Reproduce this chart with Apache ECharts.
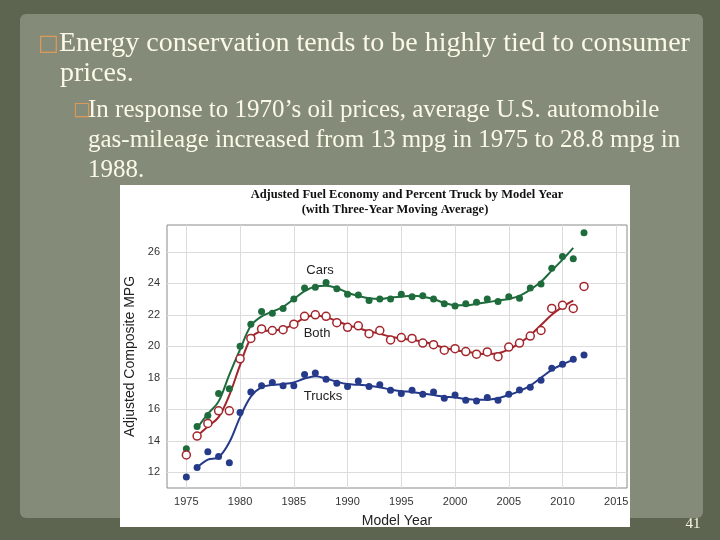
<!DOCTYPE html>
<html><head><meta charset="utf-8">
<script src="https://cdn.jsdelivr.net/npm/echarts@6/dist/echarts.min.js"></script>
<style>html,body{margin:0;padding:0;background:#5d6450;}#c{width:720px;height:540px;}</style>
</head><body><div id="c"></div>
<script>
const years = [1975,1976,1977,1978,1979,1980,1981,1982,1983,1984,1985,1986,1987,1988,1989,1990,1991,1992,1993,1994,1995,1996,1997,1998,1999,2000,2001,2002,2003,2004,2005,2006,2007,2008,2009,2010,2011,2012];
const carsPts = [13.5,14.9,15.6,17.0,17.3,20.0,21.4,22.2,22.1,22.4,23.0,23.7,23.75,24.05,23.65,23.3,23.25,22.9,23.0,23.0,23.3,23.15,23.2,23.0,22.7,22.55,22.7,22.8,23.0,22.85,23.15,23.05,23.7,23.95,24.95,25.7,25.55,27.2];
const bothPts = [13.1,14.3,15.1,15.9,15.9,19.2,20.5,21.1,21.0,21.05,21.4,21.9,22.0,21.9,21.5,21.2,21.3,20.8,21.0,20.4,20.55,20.5,20.2,20.1,19.75,19.85,19.66,19.5,19.64,19.34,19.95,20.2,20.65,21.0,22.4,22.6,22.4,23.8];
const trucksPts = [11.7,12.3,13.3,13.0,12.6,15.8,17.1,17.5,17.7,17.5,17.5,18.2,18.3,17.9,17.65,17.45,17.8,17.45,17.55,17.2,17.0,17.2,16.95,17.1,16.7,16.9,16.57,16.53,16.74,16.57,16.95,17.23,17.4,17.84,18.6,18.85,19.17,19.45];
const lineYears = [1976,1977,1978,1979,1980,1981,1982,1983,1984,1985,1986,1987,1988,1989,1990,1991,1992,1993,1994,1995,1996,1997,1998,1999,2000,2001,2002,2003,2004,2005,2006,2007,2008,2009,2010,2011];
const carsLine = [14.8,15.7,16.5,18.2,19.8,21.3,21.9,22.2,22.5,23.0,23.5,23.8,23.85,23.7,23.4,23.2,23.05,23.0,23.1,23.15,23.2,23.15,23.0,22.75,22.6,22.6,22.7,22.8,22.9,23.0,23.2,23.6,24.1,24.8,25.5,26.25];
const bothLine = [14.3,14.9,15.5,16.9,18.8,20.5,20.95,21.0,21.1,21.4,21.8,21.95,21.85,21.6,21.35,21.15,20.95,20.8,20.6,20.5,20.4,20.3,20.1,19.9,19.75,19.65,19.55,19.5,19.55,19.8,20.2,20.7,21.35,22.0,22.5,22.9];
const trucksLine = [12.3,12.8,12.95,13.9,15.5,16.8,17.4,17.55,17.6,17.7,17.95,18.1,17.95,17.75,17.6,17.55,17.5,17.4,17.25,17.15,17.1,17.0,16.9,16.8,16.75,16.65,16.6,16.6,16.7,16.9,17.15,17.5,18.0,18.5,18.85,19.15];
const xTicks = [1975,1980,1985,1990,1995,2000,2005,2010,2015];
const yTicks = [12,14,16,18,20,22,24,26];

const GREEN = '#1e6b3c', RED = '#a3262c', BLUE = '#263a8a';
const pair = (xs, ys) => xs.map((x, i) => [x, ys[i]]);
const SERIF = '"Liberation Serif","DejaVu Serif",serif';
const SANS = '"Liberation Sans",Arial,sans-serif';
const CREAM = '#fbf8e6';
const BULLET = '#dc9a58';

const chart = echarts.init(document.getElementById('c'), null, {renderer: 'canvas'});
const txt = (x, y, s, font, color, align) => ({type: 'text', x: x, y: y, z: 10,
  style: {text: s, fill: color, font: font, align: align || 'left', verticalAlign: 'middle'}});

chart.setOption({
  animation: false,
  backgroundColor: '#5d6450',
  graphic: [
    {type: 'rect', z: -100, shape: {x: 20, y: 14, width: 683, height: 504, r: 6}, style: {fill: '#858b79'}},
    {type: 'rect', z: -90, shape: {x: 120, y: 185, width: 510, height: 342}, style: {fill: '#ffffff'}},
    txt(38, 44, '\u25A1', '22px "DejaVu Sans",sans-serif', BULLET),
    txt(59, 44, 'Energy conservation tends to be highly tied to consumer', '28px ' + SERIF, CREAM),
    txt(60, 74, 'prices.', '28px ' + SERIF, CREAM),
    txt(73, 110, '\u25A1', '19px "DejaVu Sans",sans-serif', BULLET),
    txt(88, 110, 'In response to 1970\u2019s oil prices, average U.S. automobile', '25px ' + SERIF, CREAM),
    txt(88, 140, 'gas-mileage increased from 13 mpg in 1975 to 28.8 mpg in', '25px ' + SERIF, CREAM),
    txt(88, 170, '1988.', '25px ' + SERIF, CREAM),
    txt(693, 524, '41', '15px ' + SERIF, CREAM, 'center'),
    txt(407, 195, 'Adjusted Fuel Economy and Percent Truck by Model Year', 'bold 12.5px ' + SERIF, '#111', 'center'),
    txt(395, 210, '(with Three-Year Moving Average)', 'bold 12.5px ' + SERIF, '#111', 'center'),
    txt(320, 270, 'Cars', '13px ' + SANS, '#222', 'center'),
    txt(317, 333, 'Both', '13px ' + SANS, '#222', 'center'),
    txt(323, 396, 'Trucks', '13px ' + SANS, '#222', 'center')
  ],
  grid: {left: 167, right: 93, top: 225, bottom: 52, show: true, borderColor: '#8a8a8a', borderWidth: 1, backgroundColor: 'transparent'},
  xAxis: {
    type: 'value', min: 1973.2, max: 2016,
    name: 'Model Year', nameLocation: 'middle', nameGap: 26,
    nameTextStyle: {fontFamily: SANS, fontSize: 14, color: '#222'},
    axisLine: {show: false},
    axisTick: {show: false, customValues: xTicks},
    axisLabel: {customValues: xTicks, formatter: v => String(v), fontFamily: SANS, fontSize: 11, color: '#333', margin: 8},
    splitLine: {show: true, lineStyle: {color: '#dcdcdc', width: 1}}
  },
  yAxis: {
    type: 'value', min: 11, max: 27.7,
    name: 'Adjusted Composite MPG', nameLocation: 'middle', nameGap: 30, nameRotate: 90,
    nameTextStyle: {fontFamily: SANS, fontSize: 14, color: '#222'},
    axisLine: {show: false},
    axisTick: {show: false, customValues: yTicks},
    axisLabel: {customValues: yTicks, formatter: v => String(v), fontFamily: SANS, fontSize: 11, color: '#333', margin: 7},
    splitLine: {show: true, lineStyle: {color: '#dcdcdc', width: 1}}
  },
  series: [
    {type: 'line', data: pair(lineYears, carsLine), smooth: 0.35, showSymbol: false, lineStyle: {color: GREEN, width: 2}, z: 3},
    {type: 'line', data: pair(lineYears, bothLine), smooth: 0.35, showSymbol: false, lineStyle: {color: RED, width: 2}, z: 3},
    {type: 'line', data: pair(lineYears, trucksLine), smooth: 0.35, showSymbol: false, lineStyle: {color: BLUE, width: 2}, z: 3},
    {type: 'scatter', data: pair(years, carsPts), symbolSize: 7, itemStyle: {color: GREEN, opacity: 1}, z: 4},
    {type: 'scatter', data: pair(years, bothPts), symbolSize: 8, itemStyle: {color: '#fff', borderColor: RED, borderWidth: 1.5, opacity: 1}, z: 4},
    {type: 'scatter', data: pair(years, trucksPts), symbolSize: 7, itemStyle: {color: BLUE, opacity: 1}, z: 4}
  ]
});
</script></body></html>
